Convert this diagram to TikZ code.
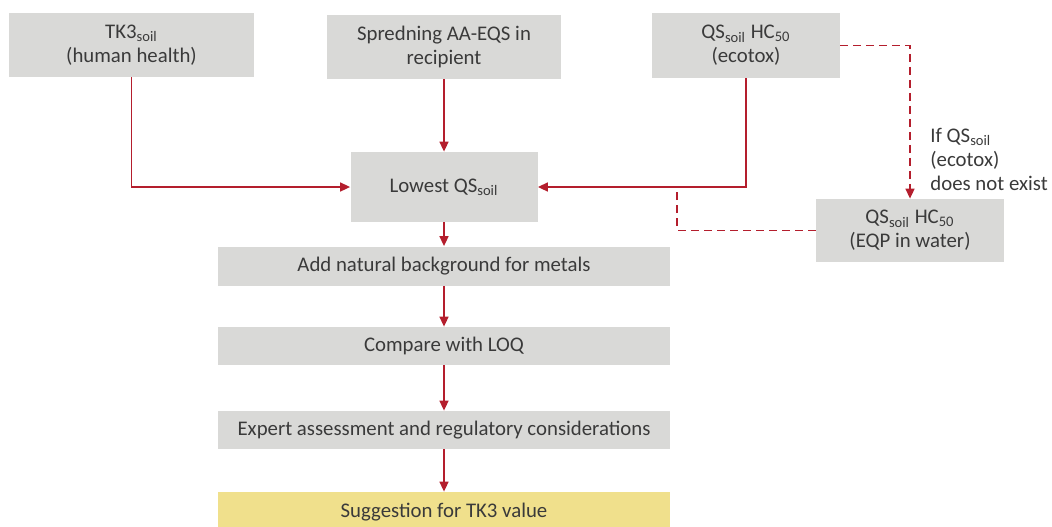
\documentclass[tikz,border=0pt]{standalone}
\usepackage{fontspec}
\setmainfont{Carlito}
\usetikzlibrary{arrows.meta}
\definecolor{boxgray}{RGB}{217,217,215}
\definecolor{arrowred}{RGB}{180,30,45}
\definecolor{suggyellow}{RGB}{240,224,140}
\definecolor{textgray}{RGB}{58,58,58}

\begin{document}
\begin{tikzpicture}[x=0.5pt, y=-0.5pt,
        box/.style={fill=boxgray, text=textgray, inner sep=0pt, align=center},
        line/.style={draw=arrowred, line width=0.8pt},
        dashline/.style={line, dash pattern=on 4pt off 2.5pt},
        >={Triangle[length=5pt,width=4.5pt]},
        font=\fontsize{10.4}{12}\selectfont]
        \clip (0,0) rectangle (1052,526);

        % Nodes
        \node (tk3) [box, minimum width=122.5pt, minimum height=32pt] at (131.5,45) {TK3\textsubscript{soil}\\(human health)};
        \node (spread) [box, minimum width=117pt, minimum height=32pt] at (444,47) {Spredning AA-EQS in\\recipient};
        \node (ecotox) [box, minimum width=94pt, minimum height=32.5pt] at (746,45.5) {QS\textsubscript{soil} HC\textsubscript{50}\\(ecotox)};
        \node (lowest) [box, minimum width=93.5pt, minimum height=35pt, below of=spread, node distance=70pt] {Lowest QS\textsubscript{soil}};
        \node (eqp) [box, minimum width=94pt, minimum height=31.5pt] at (910,230.5) {QS\textsubscript{soil} HC\textsubscript{50}\\(EQP in water)};
        \node (cond) [anchor=west, align=left, inner sep=0pt, text=textgray] at (930,159) {If QS\textsubscript{soil}\\(ecotox)\\does not exist};
        \node (background) [box, minimum width=226pt, minimum height=19.5pt, below of=lowest, node distance=39.5pt] {Add natural background for metals};
        \node (compare) [box, minimum width=226pt, minimum height=19pt, below of=background, node distance=40pt] {Compare with LOQ};
        \node (expert) [box, minimum width=226pt, minimum height=19pt, below of=compare, node distance=42pt] {Expert assessment and regulatory considerations};
        \node (suggestion) [box, fill=suggyellow, minimum width=226pt, minimum height=20pt, below of=expert, node distance=41pt] {Suggestion for TK3 value};
        \coordinate (join) at (677,187);

        % Arrows
        \draw [line, ->] (tk3) |- (lowest);
        \draw [line, ->] (spread) -- (lowest);
        \draw [line, ->] (ecotox) |- (lowest);
        \draw [dashline, ->] (ecotox) -| (eqp);
        \draw [dashline] (eqp) -| (join);
        \draw [line, ->] (lowest) -- (background);
        \draw [line, ->] (background) -- (compare);
        \draw [line, ->] (compare) -- (expert);
        \draw [line, ->] (expert) -- (suggestion);

    \end{tikzpicture}
\end{document}
